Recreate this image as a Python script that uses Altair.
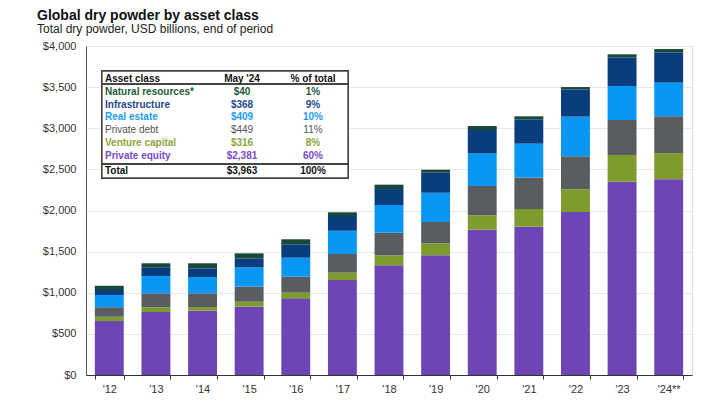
import altair as alt
import pandas as pd

years = ["'12", "'13", "'14", "'15", "'16", "'17", "'18", "'19", "'20", "'21", "'22", "'23", "'24**"]
classes = ["Private equity", "Venture capital", "Private debt", "Real estate", "Infrastructure", "Natural resources*"]

private_equity = [656, 766, 782, 831, 932, 1155, 1333, 1455, 1767, 1803, 1982, 2350, 2381]
venture_capital = [53, 57, 45, 60, 69, 89, 122, 146, 174, 215, 276, 325, 316]
private_debt = [114, 170, 166, 183, 194, 227, 275, 259, 357, 384, 401, 425, 449]
real_estate = [150, 211, 198, 235, 231, 283, 337, 356, 397, 410, 482, 414, 409]
infrastructure = [60, 106, 106, 109, 163, 179, 194, 244, 284, 296, 330, 344, 368]
natural_resources = [53, 48, 61, 61, 61, 45, 53, 36, 48, 37, 30, 41, 40]

# table (top to bottom)
table_classes = ["Natural resources*", "Infrastructure", "Real estate", "Private debt", "Venture capital", "Private equity"]
table_values = [40, 368, 409, 449, 316, 2381]
table_pcts = [1, 9, 10, 11, 8, 60]
total_value = 3963
total_pct = 100

bar_colors = ["#6E45B5", "#7E9B2E", "#5A5D60", "#0A96F5", "#0A3D7E", "#17483A"]
text_colors = ["#1E5C3A", "#1F4A8A", "#1E9BF0", "#555555", "#8DA53C", "#7A4CC8"]

series = [private_equity, venture_capital, private_debt, real_estate, infrastructure, natural_resources]
rows = []
for si, (cls, vals) in enumerate(zip(classes, series)):
    for yr, v in zip(years, vals):
        rows.append({"year": yr, "asset": cls, "value": v, "stack": si})
df = pd.DataFrame(rows)

tdf = pd.DataFrame({
    "asset": table_classes,
    "val": [f"${v:,}" for v in table_values],
    "pct": [f"{p}%" for p in table_pcts],
    "idx": list(range(len(table_classes))),
})

FONT = "Liberation Sans"

bars = alt.Chart(df).mark_bar().encode(
    x=alt.X("year:N", sort=years, title=None,
            scale=alt.Scale(paddingInner=0.38, paddingOuter=0.19),
            axis=alt.Axis(labelAngle=0, tickBand="extent", labelFontSize=11, labelColor="#333",
                          labelFont=FONT, domainColor="#333", tickColor="#333", tickSize=4,
                          labelPadding=4, grid=False)),
    y=alt.Y("value:Q", stack="zero", title=None,
            scale=alt.Scale(domain=[0, 4000], nice=False),
            axis=alt.Axis(values=list(range(0, 4001, 500)), format="$,.0f", labelFontSize=11,
                          labelColor="#333", labelFont=FONT, ticks=False, labelPadding=10,
                          domainColor="#555", gridColor="#e8e8e8")),
    fill=alt.Fill("asset:N", scale=alt.Scale(domain=classes, range=bar_colors), legend=None),
    order=alt.Order("stack:Q", sort="ascending"),
)

box = alt.Chart(tdf).mark_rect(fill="white", stroke="#444", strokeWidth=1.3).encode(
    x=alt.value(16), x2=alt.value(262), y=alt.value(25), y2=alt.value(132))
hline = alt.Chart(tdf).mark_rule(color="#444", strokeWidth=1).encode(
    x=alt.value(16), x2=alt.value(262), y=alt.value(38))
tline = alt.Chart(tdf).mark_rule(color="#444", strokeWidth=2).encode(
    x=alt.value(16), x2=alt.value(262), y=alt.value(118))

base = alt.Chart(tdf).transform_calculate(py="45.6 + 12.9 * datum.idx")
tcolor = alt.Color("asset:N", scale=alt.Scale(domain=table_classes, range=text_colors), legend=None)
ypos = alt.Y("py:Q", scale=None)

def txt(field, xpos, align, bold):
    flt = "datum.asset != 'Private debt'" if bold else "datum.asset == 'Private debt'"
    return base.transform_filter(flt).mark_text(
        align=align, baseline="middle", fontSize=10, font=FONT,
        fontWeight="bold" if bold else "normal").encode(
        x=alt.value(xpos), y=ypos, text=f"{field}:N", color=tcolor)

texts = []
for b in (True, False):
    texts += [txt("asset", 19, "left", b), txt("val", 156, "center", b), txt("pct", 227, "center", b)]

hdr = pd.DataFrame({"a": ["Asset class"], "b": ["May '24"], "c": ["% of total"]})
tot = pd.DataFrame({"a": ["Total"], "b": [f"${total_value:,}"], "c": [f"{total_pct}%"]})

def fixed_row(d, ypx):
    ch = alt.Chart(d)
    kw = dict(baseline="middle", fontSize=10, font=FONT, fontWeight="bold", color="#111")
    return [
        ch.mark_text(align="left", **kw).encode(x=alt.value(19), y=alt.value(ypx), text="a:N"),
        ch.mark_text(align="center", **kw).encode(x=alt.value(156), y=alt.value(ypx), text="b:N"),
        ch.mark_text(align="center", **kw).encode(x=alt.value(227), y=alt.value(ypx), text="c:N"),
    ]

layers = [bars, box, hline, tline] + texts + fixed_row(hdr, 32.5) + fixed_row(tot, 124.5)

chart = alt.layer(*layers).properties(
    width=606, height=329,
    autosize=alt.AutoSizeParams(type="none"),
    padding={"left": 78, "top": 38, "right": 20, "bottom": 25},
    title=alt.TitleParams(
        text="Global dry powder by asset class",
        subtitle="Total dry powder, USD billions, end of period",
        anchor="start", frame="group", dx=-49, offset=5,
        font=FONT, fontSize=14, fontWeight="bold", color="#111",
        subtitleFont=FONT, subtitleFontSize=12, subtitleColor="#222", subtitlePadding=1,
    ),
).configure_view(stroke=None).configure(background="white")

chart.save("out.html", embed_options={"renderer": "svg", "actions": False})
